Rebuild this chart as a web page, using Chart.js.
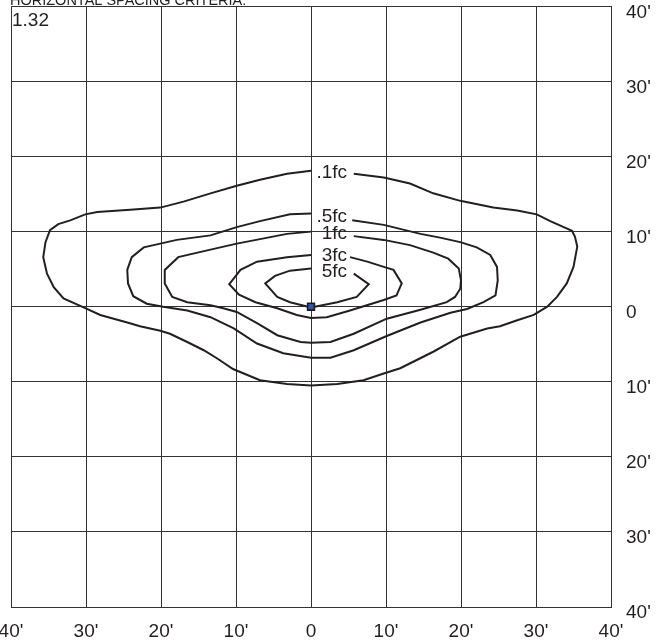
<!DOCTYPE html>
<html>
<head>
<meta charset="utf-8">
<title>Horizontal spacing criteria</title>
<script src="https://cdn.jsdelivr.net/npm/chart.js@4.4.1/dist/chart.umd.min.js"></script>
<style>
    html, body { margin: 0; padding: 0; background: #fff; }
    #wrap { width: 667px; height: 643px; position: relative; }
</style>
</head>
<body>
<div id="wrap"><canvas id="isoChart"></canvas></div>
<script>
// Axis ticks (feet from the fixture)
const tickValues = [-40, -30, -20, -10, 0, 10, 20, 30, 40];
const tickLabels = ["40'", "30'", "20'", "10'", "0", "10'", "20'", "30'", "40'"];

// Contour names and where their labels sit (feet)
const contourNames = ['.1fc', '.5fc', '1fc', '3fc', '5fc'];
const labelY = [17.8, 12.0, 9.7, 6.8, 4.6];
const labelRightX = 4.8;

const titleText = 'HORIZONTAL SPACING CRITERIA:';
const ratioText = '1.32';

// Iso-footcandle lines as [x, y] in feet
const fc01 = [[0,18.1],[-3.2,17.7],[-6.8,16.9],[-9.9,16.1],[-13.4,15.1],[-17.0,14.0],[-20.1,13.2],[-24.1,12.9],
    [-28.5,12.6],[-30.1,12.3],[-32.1,11.5],[-33.7,11.0],[-34.8,10.2],[-35.4,8.6],[-35.7,6.6],[-35.2,4.4],
    [-34.3,2.6],[-33.0,1.1],[-30.1,-0.2],[-28.1,-1.1],[-24.5,-2.1],[-22.8,-2.6],[-20.1,-3.2],[-18.8,-3.6],
    [-16.5,-4.7],[-14.3,-5.8],[-12.5,-6.9],[-10.4,-8.3],[-6.8,-9.8],[-3.2,-10.3],[0,-10.5],[3.5,-10.3],
    [7.0,-9.8],[9.7,-8.9],[11.9,-8.2],[14.1,-7.1],[16.3,-6.0],[19.9,-4.0],[21.2,-3.6],[23.5,-2.9],
    [25.2,-2.6],[27.5,-1.8],[29.7,-1.1],[31.5,0],[32.8,1.3],[34.1,3.1],[35.0,5.3],[35.5,8.0],[35.2,9.3],
    [34.8,10.1],[33.7,10.6],[31.9,11.4],[30.1,12.3],[27.5,12.8],[24.3,13.2],[19.9,14.1],[16.3,15.1],
    [13.2,16.4],[9.7,17.2],[5.7,17.7]];

const fc05 = [[0,12.4],[-2.8,12.3],[-6.8,11.4],[-9.9,10.6],[-13.4,9.5],[-17.9,8.9],[-20.1,8.4],[-22.3,7.9],
    [-23.9,6.6],[-24.5,4.9],[-24.4,3.1],[-23.7,1.4],[-21.9,0.4],[-19.7,0],[-16.5,-0.5],[-13.4,-1.4],
    [-10.3,-2.9],[-7.2,-4.9],[-3.7,-6.2],[0,-6.8],[2.6,-6.8],[5.7,-5.8],[10.1,-3.9],[14.6,-2.1],
    [18.6,-0.8],[20.8,-0.3],[23.0,0.6],[24.6,1.5],[24.9,3.5],[24.8,5.3],[23.9,6.9],[22.1,7.9],
    [19.9,8.6],[17.2,9.2],[14.6,9.7],[9.7,10.9],[5.5,11.5]];

const fc1 = [[0,10.0],[-3.2,9.7],[-6.8,9.0],[-9.9,8.4],[-13.4,7.6],[-17.7,6.6],[-19.5,4.9],[-19.5,3.1],
    [-18.5,1.3],[-16.5,0.6],[-13.4,0.2],[-11.7,-0.2],[-9.9,-0.7],[-7.2,-2.2],[-4.5,-3.8],[-1.4,-4.7],
    [0,-4.8],[2.6,-4.7],[5.7,-3.6],[10.1,-1.6],[14.6,-0.4],[18.1,0.6],[19.2,1.3],[19.9,2.4],[20.0,3.5],
    [19.7,5.1],[18.3,6.4],[16.3,7.2],[13.2,8.2],[9.7,8.9],[5.7,9.4]];

const fc3 = [[0,6.9],[-3.2,6.6],[-7.2,6.0],[-9.4,4.9],[-10.9,3.0],[-9.6,1.6],[-7.4,0.6],[-4.5,-0.2],
    [-1.9,-1.1],[0,-1.5],[2.1,-1.4],[5.2,-0.5],[9.7,0.9],[11.4,1.5],[12.1,3.1],[11.0,4.9],[9.7,5.3],
    [7.5,6.0],[5.2,6.6]];

const fc5 = [[0,5.1],[-2.8,4.8],[-4.8,4.1],[-6.1,3.1],[-4.5,1.3],[-2.8,0.6],[0,-0.1],[3.5,0.6],
    [6.1,1.3],[7.7,3.0],[5.7,4.4]];

const fixture = [[0, 0]];

const inkColor = '#231f20';
const fontFamily = '"Liberation Sans", Arial, Helvetica, sans-serif';

function toPoints(list) {
    return list.map(p => ({ x: p[0], y: p[1] }));
}

function contourSet(list) {
    return {
        data: toPoints(list),
        showLine: true,
        borderColor: inkColor,
        borderWidth: 2,
        pointRadius: 0,
        tension: 0,
        fill: false
    };
}

// Labels, ratio and the clipped heading
const textPlugin = {
    id: 'isoText',
    afterDatasetsDraw(chart) {
        const ctx = chart.ctx;
        const area = chart.chartArea;
        const x = chart.scales.x;
        const y = chart.scales.y;

        ctx.save();
        ctx.fillStyle = inkColor;
        ctx.font = '19px ' + fontFamily;
        ctx.textAlign = 'right';
        ctx.textBaseline = 'middle';
        contourNames.forEach((name, i) => {
            ctx.fillText(name, x.getPixelForValue(labelRightX), y.getPixelForValue(labelY[i]));
        });

        ctx.textAlign = 'left';
        ctx.fillText(ratioText, area.left + 1, area.top + 14);

        ctx.font = '14.5px ' + fontFamily;
        ctx.textBaseline = 'alphabetic';
        ctx.fillText(titleText, area.left - 1, 5);
        ctx.restore();
    }
};

function noEdgePadding(scale) {
    scale.paddingLeft = 0;
    scale.paddingRight = 0;
    scale.paddingTop = 0;
    scale.paddingBottom = 0;
}

const ctx = document.getElementById('isoChart').getContext('2d');

new Chart(ctx, {
    type: 'scatter',
    data: {
        datasets: [
            {
                data: toPoints(fixture),
                pointStyle: 'rect',
                pointRadius: 4.8,
                backgroundColor: '#2f55a4',
                borderColor: '#1a1a1a',
                borderWidth: 1.6
            },
            contourSet(fc01),
            contourSet(fc05),
            contourSet(fc1),
            contourSet(fc3),
            contourSet(fc5)
        ]
    },
    options: {
        responsive: true,
        maintainAspectRatio: false,
        animation: false,
        layout: {
            padding: { left: 11, top: 6, right: 0, bottom: 0 }
        },
        plugins: {
            legend: { display: false },
            tooltip: { enabled: false }
        },
        scales: {
            x: {
                type: 'linear',
                position: 'bottom',
                min: -40,
                max: 40,
                afterBuildTicks: function(scale) {
                    scale.ticks = tickValues.map(v => ({ value: v }));
                },
                afterFit: function(scale) {
                    scale.height = 36;
                    noEdgePadding(scale);
                },
                grid: {
                    color: '#333',
                    lineWidth: 1,
                    drawTicks: false
                },
                border: { display: true, color: '#333', width: 1 },
                ticks: {
                    padding: 13,
                    maxRotation: 0,
                    autoSkip: false,
                    color: inkColor,
                    font: { family: fontFamily, size: 19 },
                    callback: function(value) {
                        return tickLabels[tickValues.indexOf(value)];
                    }
                }
            },
            y: {
                type: 'linear',
                position: 'right',
                min: -40,
                max: 40,
                afterBuildTicks: function(scale) {
                    scale.ticks = tickValues.map(v => ({ value: v }));
                },
                afterFit: function(scale) {
                    scale.width = 56;
                    noEdgePadding(scale);
                },
                grid: {
                    color: '#333',
                    lineWidth: 1,
                    drawTicks: false
                },
                border: { display: true, color: '#333', width: 1 },
                ticks: {
                    padding: 15,
                    labelOffset: 6,
                    autoSkip: false,
                    color: inkColor,
                    font: { family: fontFamily, size: 19 },
                    callback: function(value) {
                        return tickLabels[tickValues.indexOf(value)];
                    }
                }
            }
        }
    },
    plugins: [textPlugin]
});
</script>
</body>
</html>
